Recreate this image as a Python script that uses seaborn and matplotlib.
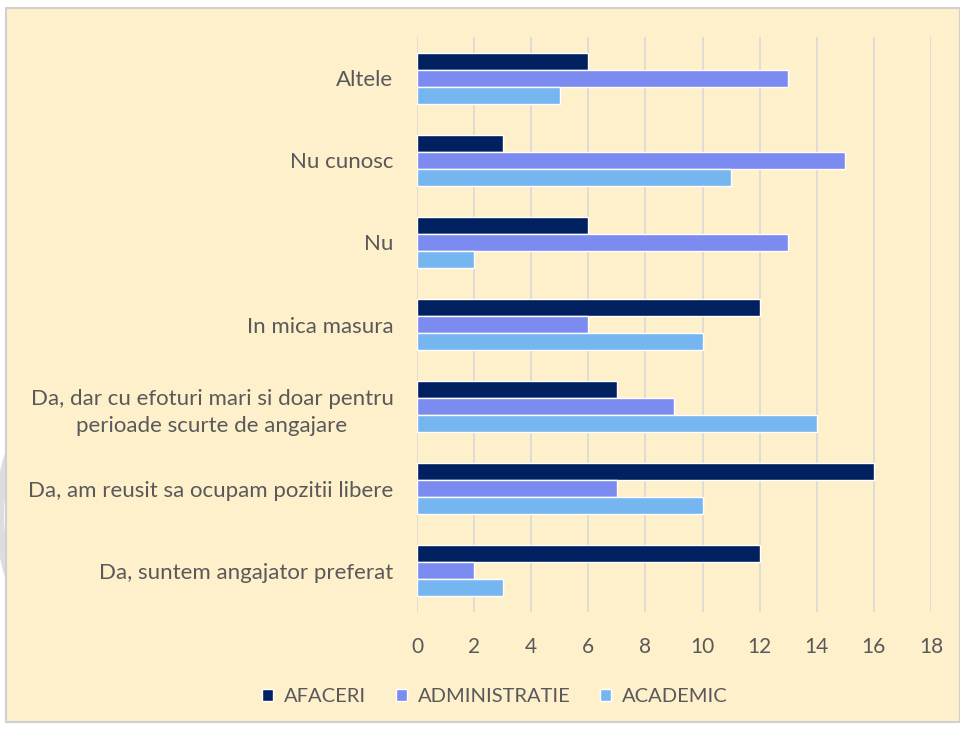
"""Horizontal grouped bar chart: AFACERI / ADMINISTRATIE / ACADEMIC."""

import matplotlib.pyplot as plt
import matplotlib.patches as mpatches
import pandas as pd
import seaborn as sns

categories = [
    "Altele",
    "Nu cunosc",
    "Nu",
    "In mica masura",
    "Da, dar cu efoturi mari si doar pentru\nperioade scurte de angajare",
    "Da, am reusit sa ocupam pozitii libere",
    "Da, suntem angajator preferat",
]
series = ["AFACERI", "ADMINISTRATIE", "ACADEMIC"]
afaceri = [6, 3, 6, 12, 7, 16, 12]
administratie = [13, 15, 13, 6, 9, 7, 2]
academic = [5, 11, 2, 10, 14, 10, 3]
x_ticks = list(range(0, 20, 2))

colors = ["#002060", "#7B8BEF", "#76B6F0"]
bg = "#FFF0CC"

rows = []
for name, vals in zip(series, [afaceri, administratie, academic]):
    for cat, v in zip(categories, vals):
        rows.append({"cat": cat, "serie": name, "val": v})
df = pd.DataFrame(rows)

sns.set_theme(style="white")
plt.rcParams["font.family"] = ["Lato", "DejaVu Sans"]

fig = plt.figure(figsize=(9.6, 7.32), dpi=100)
fig.patch.set_facecolor("white")

# decorative grey arc peeking out on the left, then the yellow panel
fig.patches.append(mpatches.Ellipse((30 / 960, 1 - 515 / 732), 60 / 960, 170 / 732,
                                    transform=fig.transFigure, facecolor="none",
                                    edgecolor="#DDDDDD", linewidth=6, zorder=0))
fig.patches.append(mpatches.Rectangle((6 / 960, 1 - 722 / 732), 954 / 960, 714 / 732,
                                      transform=fig.transFigure, facecolor=bg,
                                      edgecolor="#D0D0D0", linewidth=1.5, zorder=1))

ax = fig.add_axes([417 / 960, 1 - 612 / 732, 514 / 960, 575 / 732])
ax.set_zorder(3)
ax.patch.set_alpha(0)

sns.barplot(data=df, y="cat", x="val", hue="serie", orient="h",
            palette=colors, width=0.62, saturation=1, ax=ax, legend=True)

ax.set_xlim(0, 18)
ax.set_ylim(6.5, -0.5)
ax.set_xticks(x_ticks)
ax.grid(axis="x", color="#D9D9D9", linewidth=1.2)
ax.set_axisbelow(True)
for s in ax.spines.values():
    s.set_visible(False)
ax.set_xlabel("")
ax.set_ylabel("")
ax.tick_params(axis="both", length=0, labelcolor="#595959")
ax.tick_params(axis="y", pad=17, labelsize=16)
ax.tick_params(axis="x", pad=18, labelsize=15)
for lbl in ax.get_yticklabels():
    lbl.set_horizontalalignment("right")
    lbl.set_multialignment("center")
    lbl.set_linespacing(1.45)

handles, labels = ax.get_legend_handles_labels()
ax.legend_.remove()
leg = fig.legend(handles, labels, loc="center", bbox_to_anchor=(495 / 960, 1 - 697 / 732),
                 ncol=3, frameon=False, fontsize=14.5, labelcolor="#595959",
                 handlelength=0.55, handleheight=0.55, handletextpad=0.55, columnspacing=1.45)
leg.set_zorder(4)

fig.savefig("out.png", dpi=100)
